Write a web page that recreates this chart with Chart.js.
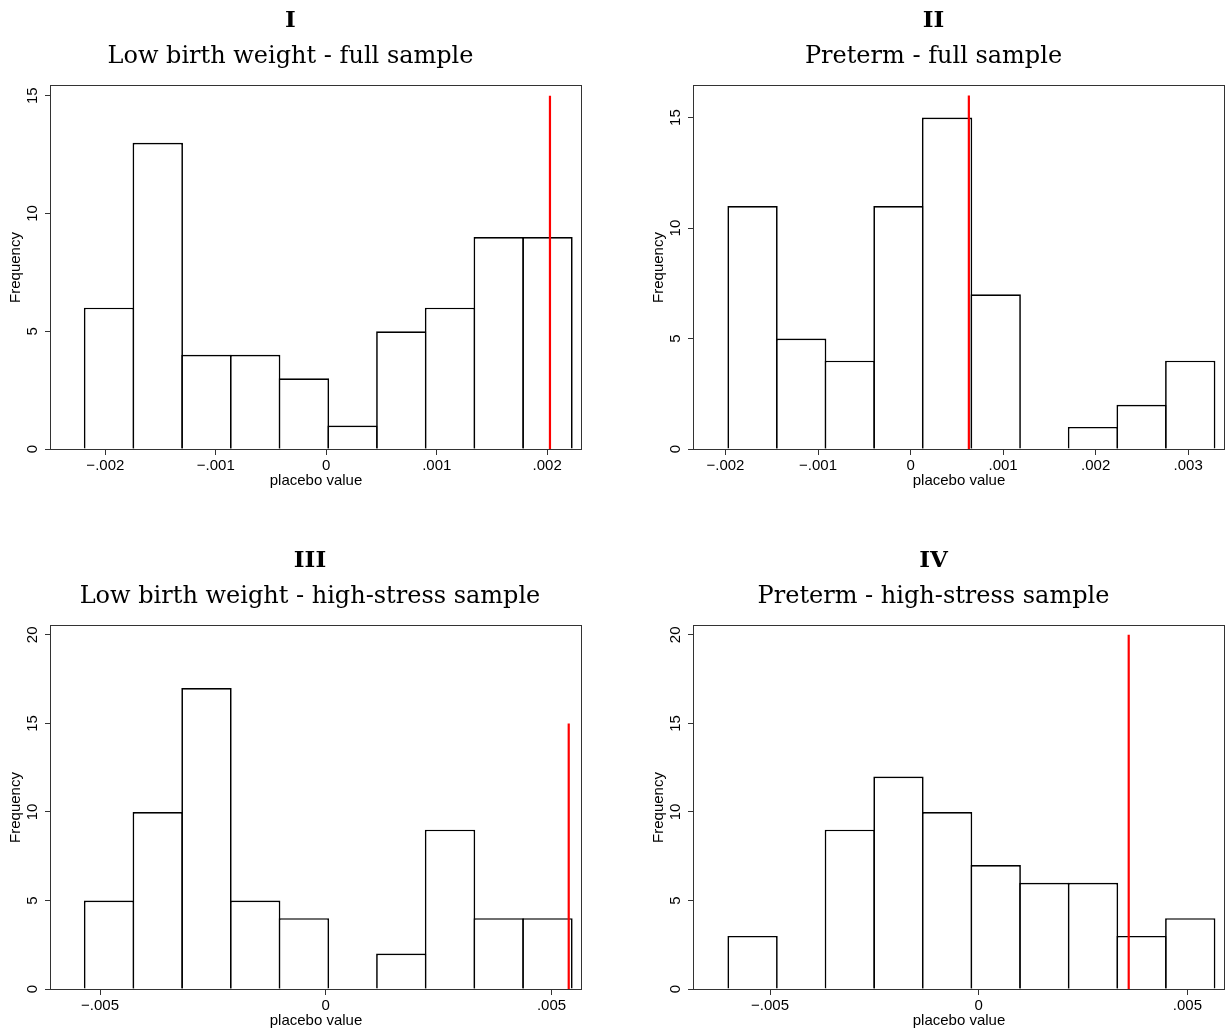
<!DOCTYPE html>
<html>
<head>
<meta charset="utf-8">
<script src="https://cdn.jsdelivr.net/npm/chart.js@4.4.1/dist/chart.umd.min.js"></script>
<style>
  html, body { margin: 0; padding: 0; background: #fff; overflow: hidden; }
  canvas { position: absolute; }
</style>
</head>
<body>
<canvas id="panel1" width="586" height="492" style="left:0;top:0"></canvas>
<canvas id="panel2" width="586" height="492" style="left:643px;top:0"></canvas>
<canvas id="panel3" width="625" height="492" style="left:0;top:540px"></canvas>
<canvas id="panel4" width="586" height="492" style="left:643px;top:540px"></canvas>
<script>
"use strict";

// Histogram counts, 10 bins per panel
const countsI   = [6, 13, 4, 4, 3, 1, 5, 6, 9, 9];
const countsII  = [11, 5, 4, 11, 15, 7, 0, 1, 2, 4];
const countsIII = [5, 10, 17, 5, 4, 0, 2, 9, 4, 4];
const countsIV  = [3, 0, 9, 12, 10, 7, 6, 6, 3, 4];

// Left edge and width of the bins
const binStart = [-0.002187, -0.001970, -0.005340, -0.006000];
const binWidth = [0.000441, 0.0005255, 0.001079, 0.0011651];

// Actual estimate (red line) and its height
const actualValue = [0.002025, 0.000630, 0.005382, 0.003594];
const actualTop   = [15, 16, 15, 20];

const titles    = ["I", "II", "III", "IV"];
const subtitles = ["Low birth weight - full sample", "Preterm - full sample",
                   "Low birth weight - high-stress sample", "Preterm - high-stress sample"];

// Axis ranges
const xMin = [-0.002492, -0.002340, -0.006087, -0.006821];
const xMax = [0.002306, 0.003387, 0.005654, 0.005877];
const yMax = [15.41, 16.43, 20.5, 20.5];

// Tick values and labels
const xTicksI   = [-0.002, -0.001, 0, 0.001, 0.002];
const xLabelsI  = ["\u2212.002", "\u2212.001", "0", ".001", ".002"];
const xTicksII  = [-0.002, -0.001, 0, 0.001, 0.002, 0.003];
const xLabelsII = ["\u2212.002", "\u2212.001", "0", ".001", ".002", ".003"];
const xTicksHS  = [-0.005, 0, 0.005];
const xLabelsHS = ["\u2212.005", "0", ".005"];
const yTicksFull = [0, 5, 10, 15];
const yTicksHS   = [0, 5, 10, 15, 20];

const serif = "'DejaVu Serif', 'Liberation Serif', serif";
const sans = "'Liberation Sans', Arial, sans-serif";

// box round the plot region
const framePlugin = {
  id: 'frame',
  afterDatasetsDraw(chart) {
    const a = chart.chartArea, ctx = chart.ctx;
    ctx.save();
    ctx.strokeStyle = '#333';
    ctx.lineWidth = 1;
    ctx.strokeRect(Math.round(a.left) - 0.5, Math.round(a.top) - 0.5,
                   Math.round(a.right - a.left) + 1, Math.round(a.bottom - a.top) + 1);
    ctx.restore();
  }
};

function makePanel(id, i, counts, xTicks, xLabels, yTicks) {
  const canvas = document.getElementById(id);
  // empty space right of the plot, so the title centre can sit further right
  const spare = canvas.width - 586;
  const bars = counts.map((c, k) => ({ x: binStart[i] + (k + 0.5) * binWidth[i], y: c }));

  new Chart(canvas, {
    type: 'bar',
    data: {
      datasets: [
        {
          type: 'line',
          data: [{ x: actualValue[i], y: 0 }, { x: actualValue[i], y: actualTop[i] }],
          borderColor: '#f00',
          borderWidth: 2.2,
          pointRadius: 0
        },
        {
          type: 'bar',
          data: bars,
          backgroundColor: '#fff',
          borderColor: '#000',
          borderWidth: 1.7,
          borderSkipped: 'start',
          inflateAmount: 0,
          barPercentage: 1.035,   // overlap so shared edges are a single line
          categoryPercentage: 1
        }
      ]
    },
    plugins: [framePlugin],
    options: {
      responsive: false,
      animation: false,
      devicePixelRatio: 1,
      events: [],
      layout: { padding: { left: 0, right: 5, top: 0, bottom: 0 } },
      plugins: {
        legend: { display: false },
        tooltip: { enabled: false },
        title: {
          display: true,
          text: titles[i],
          color: '#000',
          font: { family: serif, size: 23, weight: 'bold', lineHeight: 1 },
          padding: { top: 10, bottom: 3 }
        },
        subtitle: {
          display: true,
          text: subtitles[i],
          color: '#000',
          font: { family: serif, size: 24, weight: 'normal', lineHeight: 1 },
          padding: { top: 8.5, bottom: 17.5 }
        }
      },
      scales: {
        x: {
          type: 'linear',
          min: xMin[i],
          max: xMax[i],
          offset: false,
          grid: { drawOnChartArea: false, offset: false, tickLength: 6, tickColor: '#333', lineWidth: 1 },
          border: { display: false },
          ticks: {
            color: '#000',
            font: { family: sans, size: 15 },
            padding: 2,
            maxRotation: 0,
            autoSkip: false,
            callback: (v, idx) => xLabels[idx]
          },
          title: {
            display: true,
            text: 'placebo value',
            color: '#000',
            font: { family: sans, size: 15 },
            padding: { top: 0, bottom: 2 }
          },
          afterBuildTicks: s => { s.ticks = xTicks.map(v => ({ value: v })); },
          afterFit: s => { s.height = 43; }
        },
        y: {
          type: 'linear',
          min: 0,
          max: yMax[i],
          grid: { drawOnChartArea: false, tickLength: 6, tickColor: '#333', lineWidth: 1 },
          border: { display: false },
          ticks: {
            color: '#000',
            font: { family: sans, size: 15 },
            minRotation: 90,
            maxRotation: 90,
            crossAlign: 'center',
            padding: 4
          },
          title: {
            display: true,
            text: 'Frequency',
            color: '#000',
            font: { family: sans, size: 15 },
            padding: { top: 7, bottom: 0 }
          },
          afterBuildTicks: s => { s.ticks = yTicks.map(v => ({ value: v })); },
          afterFit: s => { s.width = 51; }
        },
        // invisible spacer on the right
        pad: {
          type: 'linear',
          position: 'right',
          display: spare > 0,
          grid: { display: false },
          border: { display: false },
          ticks: { display: false },
          afterFit: s => { s.width = spare; }
        }
      }
    }
  });
}

makePanel('panel1', 0, countsI, xTicksI, xLabelsI, yTicksFull);
makePanel('panel2', 1, countsII, xTicksII, xLabelsII, yTicksFull);
makePanel('panel3', 2, countsIII, xTicksHS, xLabelsHS, yTicksHS);
makePanel('panel4', 3, countsIV, xTicksHS, xLabelsHS, yTicksHS);
</script>
</body>
</html>
